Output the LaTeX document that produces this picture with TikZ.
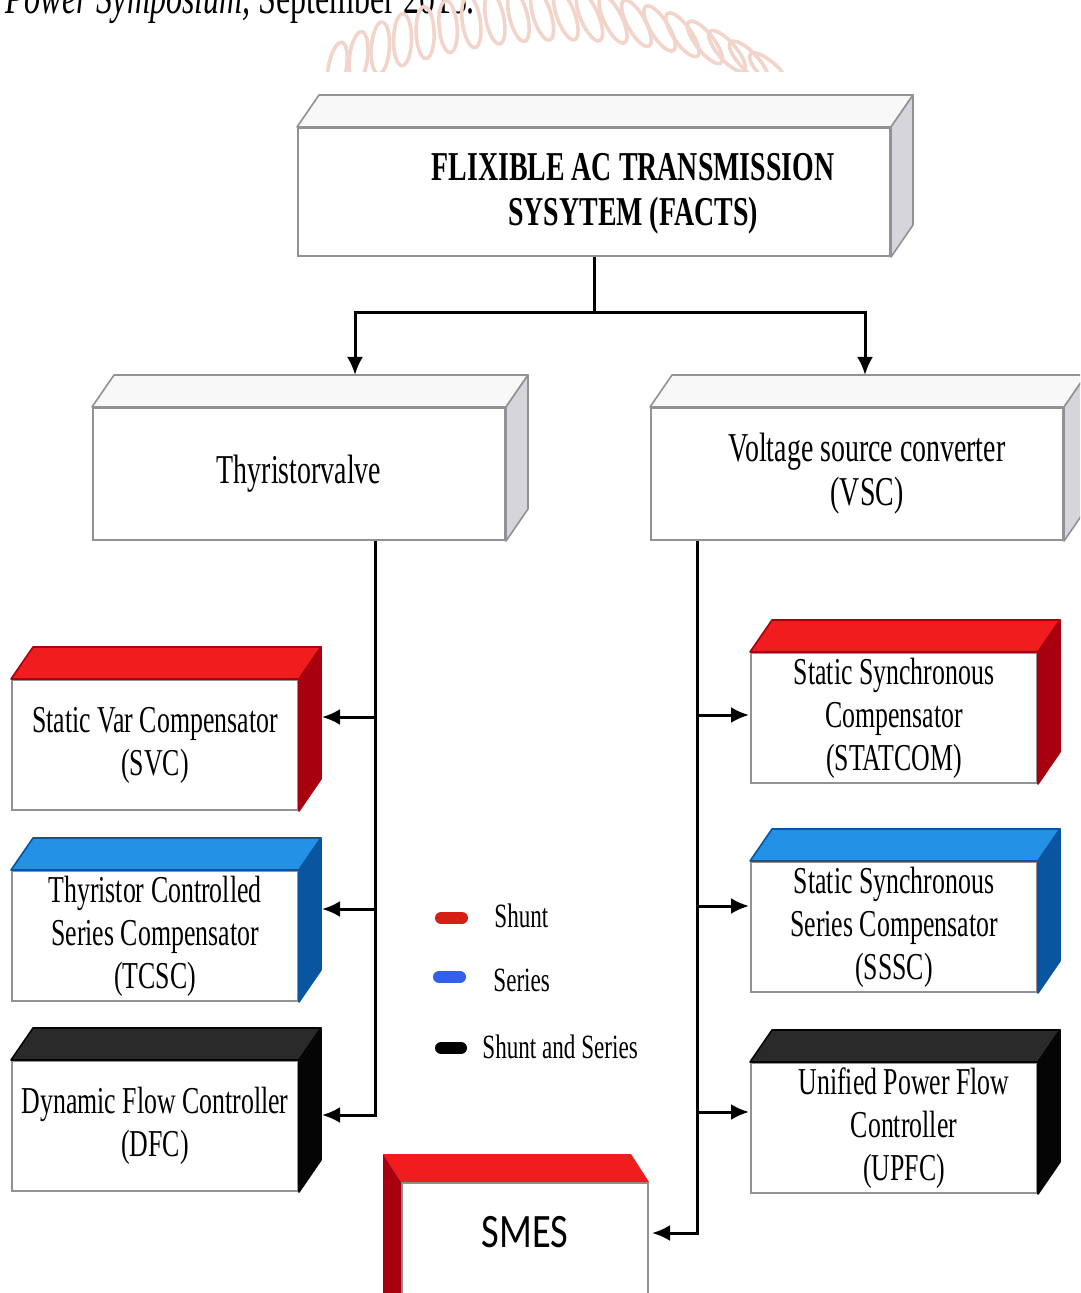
\documentclass[tikz,border=0pt]{standalone}
\usepackage{fontspec}
\setmainfont{Liberation Serif}
\newfontfamily\narrowserif[FakeStretch=0.68]{Liberation Serif}
\newfontfamily\narrowsans[FakeStretch=0.8]{Carlito}
\usetikzlibrary{arrows.meta, positioning, calc}

\definecolor{redtop}{RGB}{240,28,30}
\definecolor{redside}{RGB}{168,0,14}
\definecolor{bluetop}{RGB}{35,145,230}
\definecolor{blueside}{RGB}{10,85,160}
\definecolor{blacktop}{RGB}{42,42,42}
\definecolor{blackside}{RGB}{5,5,5}
\definecolor{whitetop}{RGB}{248,248,248}
\definecolor{whiteside}{RGB}{214,214,218}
\definecolor{boxedge}{RGB}{145,145,150}
\definecolor{shuntred}{RGB}{212,30,22}
\definecolor{seriesblue}{RGB}{50,95,240}
\definecolor{wmarkpink}{RGB}{242,212,202}

\begin{document}
\begin{tikzpicture}[
    x=0.5pt, y=-0.5pt,
    box/.style={rectangle, draw=boxedge, line width=1pt, fill=white, inner sep=0pt, align=center,
        minimum width=143pt, minimum height=65pt, font=\narrowserif\fontsize{19}{21.5}\selectfont},
    bigbox/.style={box, minimum width=206pt, minimum height=66pt, font=\narrowserif\fontsize{20.5}{22}\selectfont},
    line/.style={line width=1.5pt},
    arr/.style={line, -{Latex[length=9pt,width=8pt]}},
    legendbar/.style={line width=6pt, line cap=round},
    legend/.style={anchor=west, inner sep=0pt, font=\narrowserif\fontsize{17}{18}\selectfont}
]
    \useasboundingbox (0,0) rectangle (1080,1293);
    \clip (0,0) rectangle (1080,1293);

    % cut-off caption and watermark
    \node[anchor=base west, inner sep=0pt, font=\narrowserif\fontsize{23.5}{25}\selectfont] (source) at (5,14)
        {\textit{Power Symposium,} September 2013.};
    \begin{scope}
        \clip (300,0) rectangle (800,72);
        \foreach \a in {61,64,...,119}
            \draw[wmarkpink, line width=1.8pt, shift={({550+453*cos(\a)},{468-453*sin(\a)})}, rotate={108-\a}]
                (0,0) ellipse [x radius=9, y radius=26];
    \end{scope}

    % front faces
    \node[box, minimum width=296pt, minimum height=64pt] (facts) at (594,192) {};
    \node[font=\narrowserif\bfseries\fontsize{20.5}{22.5}\selectfont, align=center] (factstext) at (633,194)
        {FLIXIBLE AC TRANSMISSION\\SYSYTEM (FACTS)};
    \node[bigbox] (thyr) at (299,474) {Thyristorvalve};
    \node[bigbox] (vsc) at (857,474) {\hspace*{10pt}Voltage source converter\\\hspace*{10pt}(VSC)};

    \node[box] (svc) at (155,745) {Static Var Compensator\\(SVC)};
    \node[box] (tcsc) at (155,936) {Thyristor Controlled\\Series Compensator\\(TCSC)};
    \node[box] (dfc) at (155,1126) {Dynamic Flow Controller\\(DFC)};

    \node[box] (statcom) at (894,718) {Static Synchronous\\Compensator\\(STATCOM)};
    \node[box] (sssc) at (894,927) {Static Synchronous\\Series Compensator\\(SSSC)};
    \node[box] (upfc) at (894,1128) {\hspace*{10pt}Unified Power Flow\\\hspace*{10pt}Controller\\\hspace*{10pt}(UPFC)};

    \node[box, minimum width=123pt, minimum height=70pt, font=\narrowsans\fontsize{24}{26}\selectfont] (smes) at (525,1253) {SMES\\[-5pt]};

    % top and side faces
    \foreach \n/\tc/\sc/\ec in {facts/whitetop/whiteside/boxedge, thyr/whitetop/whiteside/boxedge,
            vsc/whitetop/whiteside/boxedge, svc/redtop/redside/redside, tcsc/bluetop/blueside/blueside,
            dfc/blacktop/blackside/blackside, statcom/redtop/redside/redside,
            sssc/bluetop/blueside/blueside, upfc/blacktop/blackside/blackside} {
        \filldraw[fill=\tc, draw=\ec, line width=0.8pt, line join=round] (\n.north west) -- ++(22,-32)
            -- ([shift={(22,-32)}]\n.north east) -- (\n.north east) -- cycle;
        \filldraw[fill=\sc, draw=\ec, line width=0.8pt, line join=round] (\n.north east) -- ++(22,-32)
            -- ([shift={(22,-32)}]\n.south east) -- (\n.south east) -- cycle;
    }
    \fill[redtop] (smes.north west) -- ++(-18,-28) -- ([shift={(-18,-28)}]smes.north east) -- (smes.north east) -- cycle;
    \fill[redside] (smes.north west) -- ++(-18,-28) -- ([shift={(-18,-28)}]smes.south west) -- (smes.south west) -- cycle;

    % connectors
    \draw[line] (facts.south) -- ++(0,56) coordinate (split);
    \draw[arr] (split) -| ([shift={(56,-32)}]thyr.north);
    \draw[arr] (split) -| ([shift={(8,-32)}]vsc.north);

    \coordinate (ltrunk) at ([shift={(76,0)}]thyr.south);
    \coordinate (svcin) at ([shift={(23,-28)}]svc.east);
    \coordinate (tcscin) at ([shift={(23,-27)}]tcsc.east);
    \coordinate (dfcin) at ([shift={(23,-11)}]dfc.east);
    \draw[arr] (ltrunk) |- (dfcin);
    \draw[arr] (svcin -| ltrunk) -- (svcin);
    \draw[arr] (tcscin -| ltrunk) -- (tcscin);

    \coordinate (rtrunk) at ([shift={(-160,0)}]vsc.south);
    \coordinate (statcomin) at ([shift={(-1,-3)}]statcom.west);
    \coordinate (ssscin) at ([shift={(-1,-21)}]sssc.west);
    \coordinate (upfcin) at ([shift={(-1,-16)}]upfc.west);
    \coordinate (smesin) at ([shift={(3,-20)}]smes.east);
    \draw[arr] (rtrunk) |- (smesin);
    \draw[arr] (statcomin -| rtrunk) -- (statcomin);
    \draw[arr] (ssscin -| rtrunk) -- (ssscin);
    \draw[arr] (upfcin -| rtrunk) -- (upfcin);

    % legend
    \draw[legendbar, shuntred] (441,918) -- (462,918);
    \node[legend] (lshunt) at (494,916) {Shunt};
    \draw[legendbar, seriesblue] (439,977) -- (460,977);
    \node[legend] (lseries) at (493,980) {Series};
    \draw[legendbar, black] (441,1048) -- (461,1048);
    \node[legend] (lboth) at (482,1047) {Shunt and Series};
\end{tikzpicture}
\end{document}
